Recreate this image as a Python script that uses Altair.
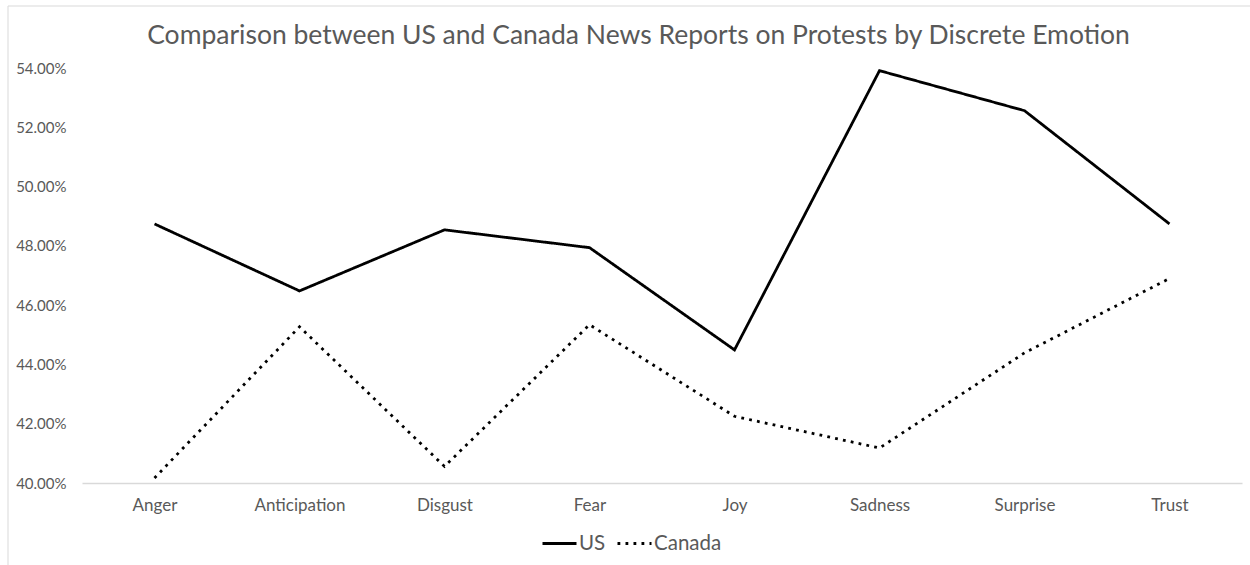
import altair as alt
import pandas as pd

title_text = "Comparison between US and Canada News Reports on Protests by Discrete Emotion"
emotions = ["Anger", "Anticipation", "Disgust", "Fear", "Joy", "Sadness", "Surprise", "Trust"]
us_values = [0.4874, 0.4648, 0.4854, 0.4794, 0.4449, 0.5391, 0.5256, 0.4874]
canada_values = [0.4017, 0.4527, 0.4056, 0.4534, 0.4225, 0.4118, 0.4439, 0.4690]
series_names = ["US", "Canada"]
y_ticks = [0.40, 0.42, 0.44, 0.46, 0.48, 0.50, 0.52, 0.54]

rows = []
for name, vals in zip(series_names, [us_values, canada_values]):
    for e, v in zip(emotions, vals):
        rows.append({"Emotion": e, "Share": v, "Country": name})
df = pd.DataFrame(rows)

FONT = "Lato"
GREY = "#595959"
W, H = 1160, 415
PL, PT = 82, 68

frame = alt.Chart(alt.Data(values=[{}])).mark_rect(
    fill=None, stroke="#d9d9d9", strokeWidth=1
).encode(
    x=alt.value(8 - PL), x2=alt.value(1300 - PL),
    y=alt.value(6 - PT), y2=alt.value(620 - PT)
)

title = alt.Chart(alt.Data(values=[{"t": title_text}])).mark_text(
    font=FONT, fontSize=26.5, color=GREY, align="center", baseline="alphabetic"
).encode(
    text="t:N", x=alt.value(638.5 - PL), y=alt.value(43.5 - PT)
)

lines = alt.Chart(df).mark_line(strokeWidth=2.8, color="black").encode(
    x=alt.X("Emotion:N", sort=emotions,
            scale=alt.Scale(padding=0.5),
            axis=alt.Axis(title=None, labelAngle=0, ticks=False, domainColor="#d9d9d9",
                          domainWidth=1.3, labelPadding=14, labelFont=FONT,
                          labelFontSize=17, labelColor=GREY, grid=False)),
    y=alt.Y("Share:Q",
            scale=alt.Scale(domain=[0.40, 0.54], nice=False, zero=False),
            axis=alt.Axis(title=None, format=".2%", values=y_ticks, ticks=False, domain=False,
                          grid=False, labelPadding=16, labelFont=FONT, labelFontSize=15,
                          labelColor=GREY)),
    strokeDash=alt.StrokeDash("Country:N", sort=series_names,
        scale=alt.Scale(domain=series_names, range=[[1, 0], [2.8, 5.2]]),
        legend=alt.Legend(title=None, orient="none", direction="horizontal",
                          legendX=459, legendY=457, symbolType="stroke",
                          symbolStrokeWidth=2.8, symbolSize=1156,
                          symbolStrokeColor="black", labelFont=FONT,
                          labelFontSize=20.5, labelColor=GREY, labelOffset=1,
                          columnPadding=5)),
)

chart = alt.layer(frame, title, lines).properties(
    width=W, height=H,
    autosize=alt.AutoSizeParams(type="none"),
    padding={"left": PL, "top": PT, "right": 8, "bottom": 82},
).configure(
    background="white",
    view=alt.ViewConfig(strokeWidth=0, stroke="transparent"),
)

chart.save("out.html", embed_options={"renderer": "svg", "actions": False})
